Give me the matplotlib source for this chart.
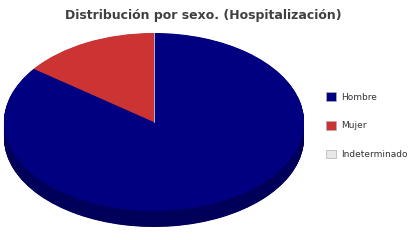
import matplotlib.pyplot as plt
import numpy as np
from matplotlib.patches import Patch

labels = ["Hombre", "Mujer", "Indeterminado"]
values = [85.2, 14.8, 0.0]
top_colors = ["#000080", "#CC3333", "#E8E8E8"]
side_colors = ["#00005A", "#8F2424", "#A0A0A0"]

W, H = 414, 240
fig = plt.figure(figsize=(W / 100, H / 100), dpi=100)
fig.patch.set_facecolor("white")

# pie box in pixels: x 4..304, top face y 33..211, depth 16 px
x0, x1 = 4, 304
y_top, y_face_bottom, depth = 33, 211, 16
ry = (y_face_bottom - y_top) / 2
d = depth / ry
ax = fig.add_axes([x0 / W, 1 - (y_face_bottom + depth) / H,
                   (x1 - x0) / W, (y_face_bottom + depth - y_top) / H])

vals = [v if v > 0 else 1e-9 for v in values]
for k in np.linspace(d, 0, 40)[:-1]:
    ax.pie(vals, colors=side_colors, startangle=90, counterclock=False,
           center=(0, -k), radius=1, frame=True,
           wedgeprops=dict(linewidth=0))
ax.pie(vals, colors=top_colors, startangle=90, counterclock=False,
       center=(0, 0), radius=1, frame=True,
       wedgeprops=dict(linewidth=0))
# thin light line where the (empty) Indeterminado slice sits
ax.plot([0, 0], [0, 1], color="#D0D0E0", lw=0.6)
ax.set_aspect("auto")
ax.set_xlim(-1, 1)
ax.set_ylim(-1 - d, 1)
ax.axis("off")

fig.text(203 / W, 1 - 16 / H, "Distribución por sexo. (Hospitalización)",
         ha="center", va="center", fontsize=9, fontweight="bold",
         color="#404040")

handles = [Patch(facecolor=c, edgecolor="#B0B0B0", linewidth=0.5)
           for c in top_colors]
fig.legend(handles, labels, loc="upper left",
           bbox_to_anchor=(318 / W, 1 - 84 / H), frameon=False,
           fontsize=6.5, labelspacing=2.15, handlelength=1.1,
           handleheight=1.1, handletextpad=0.6, labelcolor="#333333")

fig.savefig("out.png", dpi=100)
